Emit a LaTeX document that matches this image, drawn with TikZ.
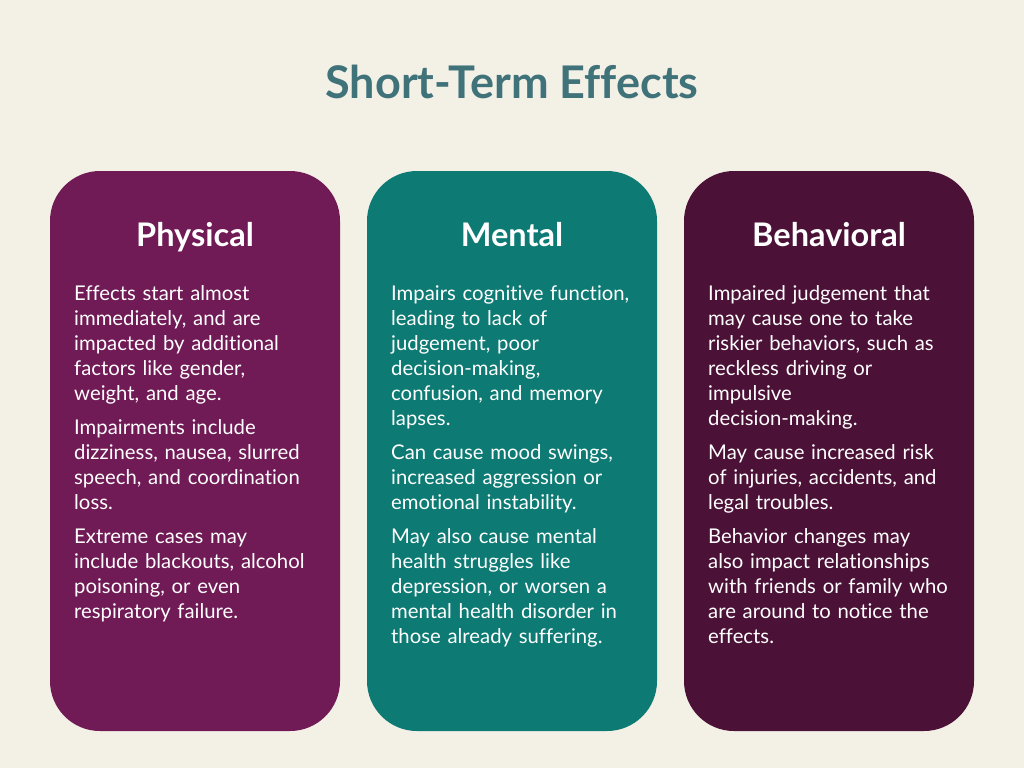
\documentclass[tikz,border=0pt]{standalone}
\usepackage{fontspec}
\setmainfont[Ligatures=NoCommon]{Lato}
\definecolor{bgc}{HTML}{F3F0E6}
\definecolor{titlec}{HTML}{40727A}
\definecolor{physc}{HTML}{701A56}
\definecolor{mentc}{HTML}{0D7A73}
\definecolor{behc}{HTML}{4C1137}
\tikzset{
  card/.style={rounded corners=50pt, draw=none},
  head/.style={text=white, font=\fontsize{32.5}{38}\selectfont\bfseries, anchor=base, inner sep=0pt},
  body/.style={text=white, font=\fontsize{20.3}{25}\selectfont, anchor=base west, inner sep=0pt, align=left, text width=270pt}
}
\newcommand{\pg}{\\[9.3pt]}
\begin{document}
\begin{tikzpicture}[x=1pt,y=-1pt]
\fill[bgc] (0,0) rectangle (1024,768);
\useasboundingbox (0,0) rectangle (1024,768);
\node[text=titlec, font=\fontsize{45}{54}\selectfont\bfseries, anchor=base, inner sep=0pt] (title) at (512,98) {Short-Term Effects};

\fill[card, physc] (50,171) rectangle (340,731);
\fill[card, mentc] (367,171) rectangle (657,731);
\fill[card, behc] (684,171) rectangle (974,731);

\node[head] (h1) at (195,246) {Physical};
\node[head] (h2) at (512,246) {Mental};
\node[head] (h3) at (829,246) {Behavioral};

\node[body] (b1) at (74,300) {Effects start almost\\
immediately, and are\\
impacted by additional\\
factors like gender,\\
weight, and age.\pg
Impairments include\\
dizziness, nausea, slurred\\
speech, and coordination\\
loss.\pg
Extreme cases may\\
include blackouts, alcohol\\
poisoning, or even\\
respiratory failure.};

\node[body] (b2) at (391,300) {Impairs cognitive function,\\
leading to lack of\\
judgement, poor\\
decision-making,\\
confusion, and memory\\
lapses.\pg
Can cause mood swings,\\
increased aggression or\\
emotional instability.\pg
May also cause mental\\
health struggles like\\
depression, or worsen a\\
mental health disorder in\\
those already suffering.};

\node[body] (b3) at (708,300) {Impaired judgement that\\
may cause one to take\\
riskier behaviors, such as\\
reckless driving or\\
impulsive\\
decision-making.\pg
May cause increased risk\\
of injuries, accidents, and\\
legal troubles.\pg
Behavior changes may\\
also impact relationships\\
with friends or family who\\
are around to notice the\\
effects.};
\end{tikzpicture}
\end{document}
